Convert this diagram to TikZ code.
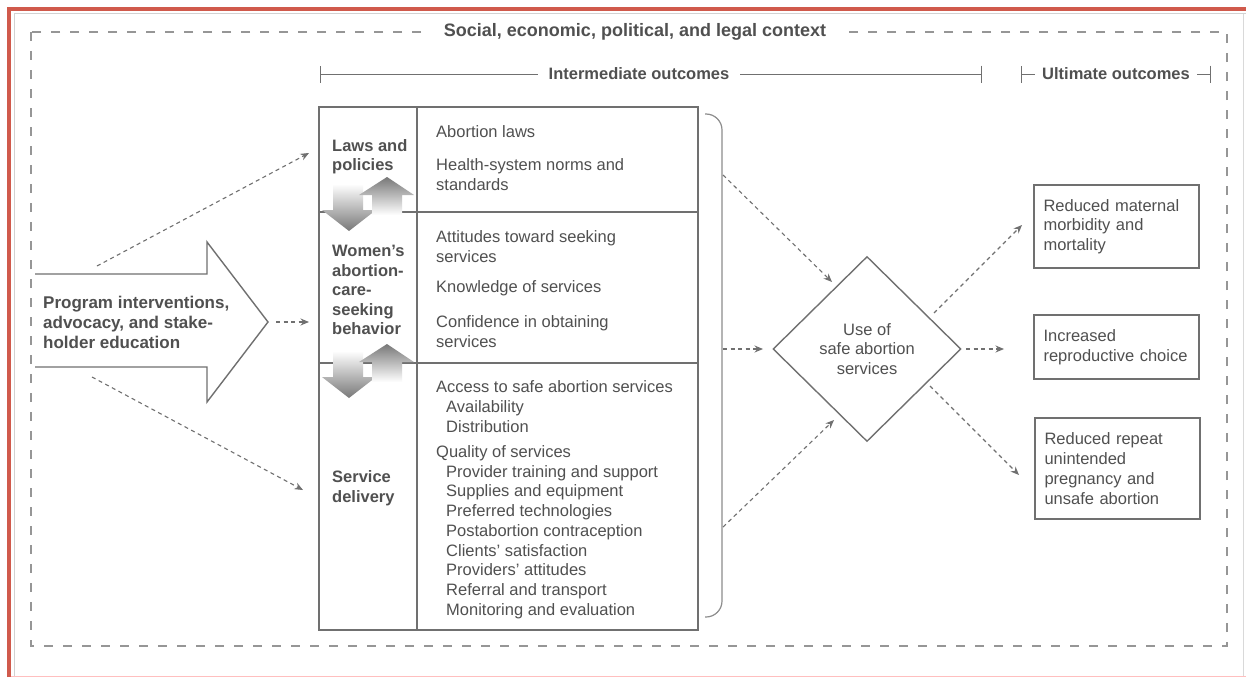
\documentclass[tikz,border=0pt]{standalone}
\usepackage{fontspec}
\setmainfont{Liberation Sans}
\usetikzlibrary{shapes.geometric, arrows.meta, positioning}
\definecolor{inkgray}{RGB}{80, 80, 80}
\definecolor{rulegray}{RGB}{112, 112, 112}
\definecolor{dashgray}{RGB}{150, 150, 150}
\definecolor{shadegray}{RGB}{120, 120, 120}
\definecolor{framered}{RGB}{208, 90, 76}

\tikzset{
  txt/.style={font=\fontsize{16.5}{19.75}\selectfont, text=inkgray, inner sep=0pt, align=left},
  hdr/.style={font=\bfseries\fontsize{16.5}{19.5}\selectfont, text=inkgray, inner sep=0pt, align=left},
  outbox/.style={draw=rulegray, line width=1.4pt, txt, text width=146pt, inner xsep=9.5pt},
  flow/.style={draw=rulegray, line width=1.1pt, dash pattern=on 4pt off 3.5pt, -{Stealth[length=8.5pt,width=7pt]}},
  span/.style={draw=rulegray, line width=0.8pt, {Bar[width=17pt]}-{Bar[width=17pt]}},
}

\begin{document}
\begin{tikzpicture}[x=1pt, y=-1pt]
    \useasboundingbox (0,0) rectangle (1246,677);
    \fill[white] (0,0) rectangle (1246,677);

    % picture frame
    \draw[gray!35, line width=1pt] (14,677) -- (14,14) -- (1246,14);
    \draw[gray!30, line width=1pt] (1243,14) -- (1243,677);
    \draw[red!25, line width=1pt] (9,676) -- (1246,676);
    \draw[framered, line width=3.5pt] (9,677) -- (9,9) -- (1246,9);

    % context border and headings
    \draw[dashgray, line width=2pt, dash pattern=on 9pt off 10pt] (31,32) rectangle (1227,646);
    \node[hdr, font=\bfseries\fontsize{18}{20}\selectfont, fill=white, inner xsep=20pt, inner ysep=3pt] (context) at (635,32) {Social, economic, political, and legal context};

    \coordinate (imL) at (320,74);
    \coordinate (imR) at (982,74);
    \coordinate (ulL) at (1021,74);
    \coordinate (ulR) at (1211,74);
    \draw[span] (imL) -- (imR);
    \draw[span] (ulL) -- (ulR);
    \node[hdr, fill=white, inner xsep=11pt, inner ysep=3pt] (inter) at (639,74) {Intermediate outcomes};
    \node[hdr, fill=white, inner xsep=7pt, inner ysep=3pt] (ultimate) at (1116,74) {Ultimate outcomes};

    % big input arrow
    \draw[rulegray, line width=1.4pt, fill=white] (35,274) -- (207,274) -- (207,242) -- (268,322) -- (207,402) -- (207,367) -- (35,367);
    \node[hdr, anchor=west, font=\bfseries\fontsize{17}{20}\selectfont] (program) at (43,322) {Program interventions,\\advocacy, and stake-\\holder education};

    % table of intermediate outcomes
    \draw[rulegray, line width=1.4pt] (319,107) rectangle (698,630);
    \draw[rulegray, line width=1.4pt] (417,107) -- (417,630);
    \draw[rulegray, line width=1.4pt] (319,212) -- (698,212);
    \draw[rulegray, line width=1.4pt] (319,363) -- (698,363);

    % two-way arrows between the rows
    \foreach \yc in {204,371}{
        \shade[top color=white, bottom color=shadegray]
            (333,\yc-20) -- (363,\yc-20) -- (363,\yc+6) -- (376,\yc+6) -- (349,\yc+27) -- (322,\yc+6) -- (333,\yc+6) -- cycle;
        \shade[top color=shadegray, bottom color=white]
            (372,\yc+11) -- (372,\yc-9) -- (359,\yc-9) -- (387,\yc-27) -- (414,\yc-9) -- (402,\yc-9) -- (402,\yc+11) -- cycle;
    }

    \node[hdr, anchor=west] (laws) at (332,156.5) {Laws and\\policies};
    \node[hdr, anchor=west] (women) at (332,290) {Women's\\abortion-\\care-\\seeking\\behavior};
    \node[hdr, anchor=west] (service) at (332,488) {Service\\delivery};

    \node[txt, anchor=west] (abolaws) at (436,132) {Abortion laws};
    \node[txt, anchor=west] (norms) at (436,174.5) {Health-system norms and\\standards};
    \node[txt, anchor=west] (attitudes) at (436,246.5) {Attitudes toward seeking\\services};
    \node[txt, anchor=west] (knowledge) at (436,288) {Knowledge of services};
    \node[txt, anchor=west] (confidence) at (436,331.5) {Confidence in obtaining\\services};
    \node[txt, anchor=west] (access) at (436,406.5) {Access to safe abortion services\\
        \hspace*{10pt}Availability\\
        \hspace*{10pt}Distribution};
    \node[txt, anchor=west] (quality) at (436,532) {Quality of services\\
        \hspace*{10pt}Provider training and support\\
        \hspace*{10pt}Supplies and equipment\\
        \hspace*{10pt}Preferred technologies\\
        \hspace*{10pt}Postabortion contraception\\
        \hspace*{10pt}Clients' satisfaction\\
        \hspace*{10pt}Providers' attitudes\\
        \hspace*{10pt}Referral and transport\\
        \hspace*{10pt}Monitoring and evaluation};

    % brace gathering the rows
    \draw[rulegray!80, line width=1.2pt, rounded corners=16pt] (705,114) -- (722,114) -- (722,617) -- (705,617);

    % use of services and ultimate outcomes
    \node[draw=rulegray, line width=1.4pt, diamond, minimum width=188pt, minimum height=185pt, inner sep=0pt,
          txt, align=center] (use) at (867,349) {Use of\\safe abortion\\services};

    \node[outbox, minimum height=83pt] (maternal) at (1116.5,226.5) {Reduced maternal\\morbidity and\\mortality};
    \node[outbox, minimum height=64pt] (choice) at (1116.5,347) {Increased\\reproductive choice};
    \node[outbox, minimum height=101pt] (repeat) at (1117.5,468.5) {Reduced repeat\\unintended\\pregnancy and\\unsafe abortion};

    % connector ends
    \coordinate (progup) at (97,266);
    \coordinate (progmid) at (276,322);
    \coordinate (progdown) at (92,377);
    \coordinate (lawsin) at (309,153);
    \coordinate (womenin) at (309,322);
    \coordinate (servicein) at (303,490);
    \coordinate (braceA) at (723,175);
    \coordinate (braceB) at (723,349);
    \coordinate (braceC) at (723,527);
    \coordinate (useinA) at (832,282);
    \coordinate (useinB) at (763,349);
    \coordinate (useinC) at (834,420);
    \coordinate (useoutA) at (934,313);
    \coordinate (useoutB) at (966,349);
    \coordinate (useoutC) at (930,386);
    \coordinate (maternalin) at (1022,225);
    \coordinate (choicein) at (1004,349);
    \coordinate (repeatin) at (1019,475);

    \draw[flow] (progup) -- (lawsin);
    \draw[flow] (progmid) -- (womenin);
    \draw[flow] (progdown) -- (servicein);
    \draw[flow] (braceA) -- (useinA);
    \draw[flow] (braceB) -- (useinB);
    \draw[flow] (braceC) -- (useinC);
    \draw[flow] (useoutA) -- (maternalin);
    \draw[flow] (useoutB) -- (choicein);
    \draw[flow] (useoutC) -- (repeatin);
\end{tikzpicture}
\end{document}
